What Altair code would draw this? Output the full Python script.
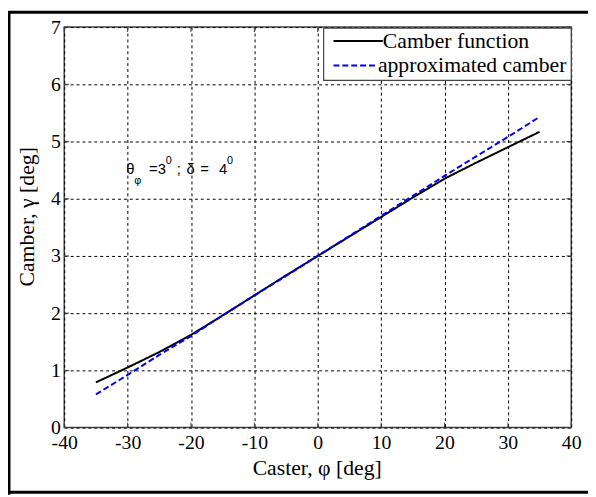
import altair as alt
import pandas as pd

# ---- data ----
caster = [-35, -30, -25, -20, -15, -10, -5, 0, 5, 10, 15, 20, 25, 30, 35]
camber_function = [0.79, 1.05, 1.32, 1.62, 1.96, 2.31, 2.66, 3.0, 3.34, 3.68, 4.02, 4.35, 4.63, 4.90, 5.17]
approx_camber = [0.58, 0.92, 1.27, 1.60, 1.96, 2.31, 2.65, 3.0, 3.35, 3.70, 4.05, 4.40, 4.74, 5.08, 5.43]
series_names = ["Camber function", "approximated camber"]
x_ticks = [-40, -30, -20, -10, 0, 10, 20, 30, 40]
y_ticks = [0, 1, 2, 3, 4, 5, 6, 7]
x_title = "Caster, φ [deg]"
y_title = "Camber, γ [deg]"

rows = []
for xv, a, b in zip(caster, camber_function, approx_camber):
    rows.append({"x": xv, "y": a, "series": series_names[0]})
    rows.append({"x": xv, "y": b, "series": series_names[1]})
df = pd.DataFrame(rows)
dfx = pd.DataFrame({"x": x_ticks})
dfy = pd.DataFrame({"y": y_ticks})
one = pd.DataFrame({"k": [0]})

W, H = 514, 406
SERIF = "Liberation Serif"
SANS = "Liberation Sans"

xscale = alt.Scale(domain=[-40, 40], nice=False, zero=False)
yscale = alt.Scale(domain=[0, 7], nice=False, zero=False)

common_axis = dict(grid=True, ticks=False, tickSize=0, domain=False, labelFlush=False,
                   labelOverlap=False, labelExpr="'' + datum.value",
                   labelFont=SERIF, labelFontSize=20, labelColor="black", title=None)
xaxis = alt.Axis(values=x_ticks, labelPadding=5, **common_axis)
yaxis = alt.Axis(values=y_ticks, labelPadding=4, **common_axis)

lines = alt.Chart(df).mark_line(strokeWidth=2).encode(
    x=alt.X("x:Q", scale=xscale, axis=xaxis),
    y=alt.Y("y:Q", scale=yscale, axis=yaxis),
    color=alt.Color("series:N", scale=alt.Scale(domain=series_names, range=["black", "blue"]),
                    legend=None),
    strokeDash=alt.StrokeDash("series:N", scale=alt.Scale(domain=series_names, range=[[1, 0], [6, 3]]),
                              legend=None),
)

# inward tick marks (MATLAB style) on all four sides
tick_len = 5
xt_bottom = alt.Chart(dfx).mark_rule(color="#444", strokeWidth=1).encode(
    x=alt.X("x:Q", scale=xscale), y=alt.value(H), y2=alt.value(H - tick_len))
xt_top = alt.Chart(dfx).mark_rule(color="#444", strokeWidth=1).encode(
    x=alt.X("x:Q", scale=xscale), y=alt.value(0), y2=alt.value(tick_len))
yt_left = alt.Chart(dfy).mark_rule(color="#444", strokeWidth=1).encode(
    y=alt.Y("y:Q", scale=yscale), x=alt.value(0), x2=alt.value(tick_len))
yt_right = alt.Chart(dfy).mark_rule(color="#444", strokeWidth=1).encode(
    y=alt.Y("y:Q", scale=yscale), x=alt.value(W), x2=alt.value(W - tick_len))


def txt(s, px, py, size, font=SANS, baseline="alphabetic", align="left", angle=0):
    return alt.Chart(one).mark_text(
        text=s, font=font, fontSize=size, align=align, baseline=baseline, color="black",
        angle=angle
    ).encode(x=alt.value(px), y=alt.value(py))


# axis titles
xtitle = txt(x_title, 191, 454, 22, font=SERIF)
ytitle = txt(y_title, -31, 263, 22, font=SERIF, angle=270)

# annotation: θ_φ = 3⁰; δ = 4⁰
annot = [
    txt("θ", 63, 149, 15),
    txt("φ", 71, 159, 11),
    txt("=3", 86, 149, 15),
    txt("0", 103, 139, 11),
    txt(";", 114, 149, 15),
    txt("δ", 124, 149, 15),
    txt("=", 138, 149, 15),
    txt("4", 157, 149, 15),
    txt("0", 165, 139, 11),
]

# legend box (top-right, inside the axes)
legend_box = alt.Chart(one).mark_rect(fill="white", stroke="#444", strokeWidth=1.2).encode(
    x=alt.value(263), x2=alt.value(W), y=alt.value(1), y2=alt.value(54))
leg_line1 = alt.Chart(one).mark_rule(color="black", strokeWidth=2).encode(
    x=alt.value(273), x2=alt.value(323), y=alt.value(14))
leg_line2 = alt.Chart(one).mark_rule(color="blue", strokeWidth=2, strokeDash=[6, 3]).encode(
    x=alt.value(273), x2=alt.value(318), y=alt.value(39))
leg_text1 = txt(series_names[0], 323, 14, 22, font=SERIF, baseline="middle")
leg_text2 = txt(series_names[1], 318, 39, 22, font=SERIF, baseline="middle")


# outer picture frame (top, left, bottom)
def frame(**enc):
    return alt.Chart(one).mark_rule(color="black", strokeWidth=3).encode(**enc)


frames = [
    frame(x=alt.value(-57), x2=alt.value(540), y=alt.value(-15)),
    frame(x=alt.value(-56), y=alt.value(-16), y2=alt.value(474)),
    frame(x=alt.value(-57), x2=alt.value(540), y=alt.value(471.5)),
]

chart = alt.layer(
    lines, xt_bottom, xt_top, yt_left, yt_right, xtitle, ytitle, *annot,
    legend_box, leg_line1, leg_line2, leg_text1, leg_text2, *frames
).properties(
    width=W, height=H,
    padding={"left": 57, "top": 16, "right": 17, "bottom": 67},
    autosize=alt.AutoSizeParams(type="none"),
    background="white",
).configure_view(
    stroke="#444", strokeWidth=1.5
).configure_axis(
    gridColor="black", gridDash=[3, 3], gridOpacity=1, gridWidth=1,
)

chart.save("out.html", embed_options={"renderer": "svg", "actions": False})
